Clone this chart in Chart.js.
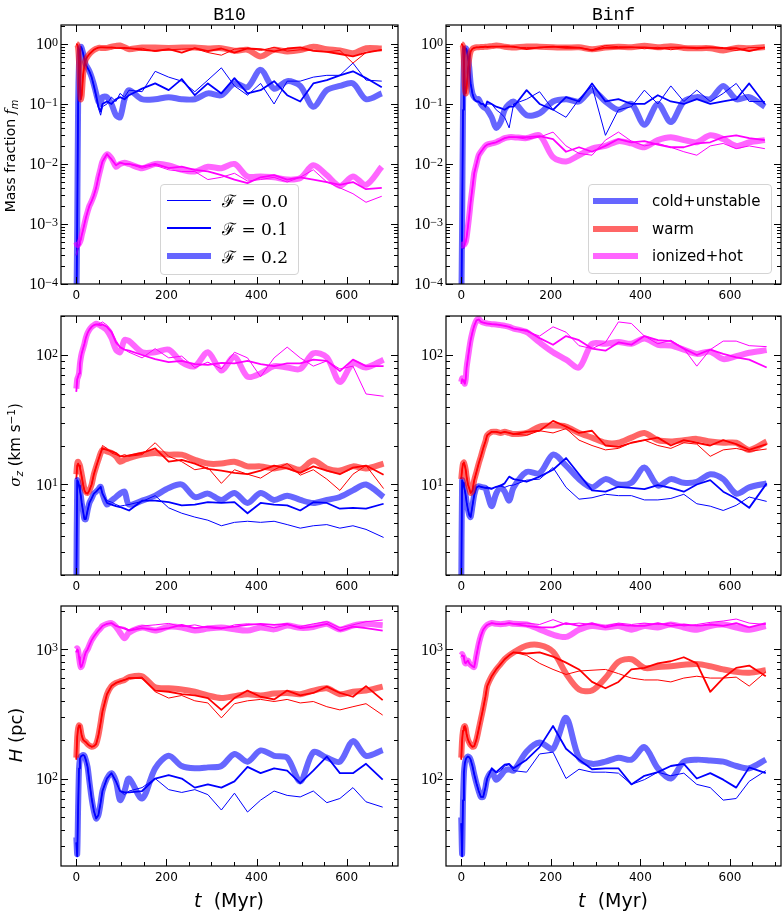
<!DOCTYPE html>
<html>
<head>
<meta charset="utf-8">
<title>Mass fraction, velocity dispersion and scale height of gas phases</title>
<script src="https://cdn.jsdelivr.net/npm/chart.js@4.4.1/dist/chart.umd.min.js"></script>
<style>
  html, body { margin:0; padding:0; background:#ffffff; }
  #fig { position:relative; width:784px; height:912px; overflow:hidden; background:#fff; font-family:"DejaVu Sans", sans-serif; color:#000; }
  .pane { position:absolute; z-index:1; }
  .pane canvas { display:block; }
  .txt { position:absolute; white-space:nowrap; line-height:1; z-index:3; }
  .title { font-family:"Liberation Mono","DejaVu Sans Mono",monospace; font-size:18px; text-align:center; }
  .ylab { transform:translate(-50%,-50%) rotate(-90deg); }
  .xlab { transform:translate(-50%,-50%); font-size:19px; }
  .sb { font-size:0.7em; position:relative; top:0.3em; font-style:italic; }
  .sp { font-size:0.7em; position:relative; top:-0.45em; }
  .legend { position:absolute; z-index:4; box-sizing:border-box; border:1px solid #d4d4d4; border-radius:4px; background:rgba(255,255,255,0.8); }
  .lsample { position:absolute; z-index:5; }
  .ltext { position:absolute; z-index:5; white-space:nowrap; line-height:1; transform:translateY(-50%); }
</style>
</head>
<body>
<div id="fig">
  <div class="txt title" style="left:61px;width:337px;top:6px;">B10</div>
  <div class="txt title" style="left:446px;width:335px;top:6px;">Binf</div>
  <div class="txt ylab" style="left:10px;top:156px;font-size:14px;">Mass fraction <i style="font-family:'DejaVu Serif',serif;">f</i><span class="sb">m</span></div>
  <div class="txt ylab" style="left:15px;top:445px;font-size:15px;"><i style="font-family:'DejaVu Serif',serif;">σ</i><span class="sb">z</span> (km s<span class="sp">−1</span>)</div>
  <div class="txt ylab" style="left:16px;top:735px;font-size:18px;"><i>H</i> (pc)</div>
  <div class="txt xlab" style="left:229px;top:900px;"><i>t</i>&nbsp;&nbsp;(Myr)</div>
  <div class="txt xlab" style="left:613px;top:900px;"><i>t</i>&nbsp;&nbsp;(Myr)</div>
</div>
<script>
// ---------------- DATA ----------------
// time samples (Myr)
const T_FM = [0,2,4,6,8,10,12,15,18,21,25,29,34,39,44,49,54,58,68,78,88,97,107,117,146,175,205,234,263,292,322,351,380,409,439,468,497,526,556,585,614,643,678];
const T_SZ = [0,2,4,6,8,10,12,15,18,21,25,29,34,39,44,49,54,58,68,78,88,97,107,117,146,175,205,234,263,292,322,351,380,409,439,468,497,526,556,585,614,643,682];
const T_H  = [0,2,4,6,8,10,12,15,18,21,25,29,34,39,44,49,54,58,68,78,88,97,107,117,146,175,205,234,263,292,322,351,380,409,439,468,497,526,556,585,614,643,680];

const F_LABELS = ['0.0','0.1','0.2'];
const PHASE_LABELS = ['cold+unstable','warm','ionized+hot'];
const X_TICKS = [0,200,400,600];
const FM_DECADES = [-4,-3,-2,-1,0];
const SZ_DECADES = [1,2];
const H_DECADES = [2,3];

// ---- Mass fraction, B10 ----
const FM_B10_COLD_F00 = [2e-5,1e-3,0.1,0.5,0.8,0.9,0.85,0.7,0.55,0.45,0.4,0.35,0.28,0.2,0.13,0.085,0.065, 0.09,0.1,0.13,0.11,0.15,0.13,0.17, 0.16,0.35,0.28,0.24,0.16,0.25,0.4,0.2,0.14,0.22,0.1,0.24,0.24,0.28,0.3,0.3,0.48,0.25,0.24];
const FM_B10_COLD_F01 = [2e-5,1e-3,0.1,0.5,0.8,0.9,0.85,0.7,0.55,0.45,0.4,0.35,0.28,0.2,0.14,0.09,0.075, 0.1,0.11,0.1,0.12,0.13,0.12,0.14, 0.18,0.22,0.17,0.26,0.14,0.22,0.15,0.27,0.15,0.17,0.24,0.14,0.11,0.22,0.25,0.3,0.35,0.27,0.19];
const FM_B10_COLD_F02 = [3e-5,1e-3,0.1,0.5,0.8,0.9,0.85,0.7,0.55,0.45,0.4,0.35,0.28,0.21,0.15,0.11,0.1, 0.13,0.13,0.1,0.065,0.06,0.12,0.17, 0.12,0.12,0.13,0.12,0.12,0.15,0.14,0.22,0.19,0.37,0.18,0.24,0.2,0.09,0.17,0.2,0.22,0.12,0.15];
const FM_B10_WARM_F00 = [1.0,0.98,0.85,0.5,0.2,0.12,0.14,0.3,0.45,0.55,0.62,0.68,0.74,0.8,0.84,0.87,0.88, 0.88,0.88,0.87,0.85,0.86,0.85,0.84, 0.85,0.75,0.8,0.82,0.84,0.72,0.65,0.82,0.85,0.78,0.88,0.76,0.8,0.78,0.74,0.78,0.48,0.72,0.8];
const FM_B10_WARM_F01 = [1.0,0.98,0.85,0.5,0.2,0.12,0.14,0.3,0.45,0.55,0.62,0.68,0.74,0.8,0.84,0.87,0.88, 0.88,0.87,0.88,0.86,0.85,0.86,0.85, 0.8,0.77,0.82,0.72,0.85,0.76,0.84,0.72,0.84,0.82,0.75,0.84,0.88,0.77,0.74,0.68,0.62,0.72,0.8];
const FM_B10_WARM_F02 = [1.0,0.98,0.85,0.5,0.2,0.12,0.14,0.3,0.45,0.55,0.62,0.68,0.74,0.79,0.83,0.86,0.86, 0.86,0.86,0.9,0.93,0.94,0.88,0.82, 0.87,0.87,0.86,0.87,0.87,0.84,0.85,0.77,0.8,0.62,0.8,0.75,0.79,0.9,0.82,0.78,0.7,0.85,0.84];
const FM_B10_HOT_F00 = [3e-4,3.5e-4,4e-4,4.5e-4,5e-4,5.5e-4,6.5e-4,8e-4,1e-3,1.25e-3,1.6e-3,2e-3,2.4e-3,3e-3,4e-3,6e-3,8.5e-3, 1.1e-2,1.5e-2,1.2e-2,9.5e-3,1.05e-2,1.0e-2,1.0e-2, 8.5e-3,9.5e-3,8e-3,7.5e-3,7.5e-3,5.5e-3,6e-3,7e-3,5.2e-3,5.5e-3,6e-3,5e-3,6e-3,8e-3,5e-3,4e-3,3.2e-3,2.3e-3,2.9e-3];
const FM_B10_HOT_F01 = [3e-4,3.5e-4,4e-4,4.5e-4,5e-4,5.5e-4,6.5e-4,8e-4,1e-3,1.25e-3,1.6e-3,2e-3,2.4e-3,3e-3,4e-3,6e-3,8.5e-3, 1.1e-2,1.45e-2,1.2e-2,9.5e-3,1.05e-2,1.0e-2,1.0e-2, 9e-3,1.0e-2,8.5e-3,9e-3,8e-3,7.5e-3,6.5e-3,5.5e-3,4.8e-3,6e-3,6.5e-3,5.5e-3,6e-3,5.5e-3,5e-3,4.5e-3,5e-3,3.8e-3,4e-3];
const FM_B10_HOT_F02 = [5e-4,4.5e-4,4.5e-4,4.7e-4,5e-4,5.5e-4,6.5e-4,8e-4,1e-3,1.25e-3,1.6e-3,2e-3,2.4e-3,3e-3,4e-3,6e-3,8.5e-3, 1.1e-2,1.45e-2,1.25e-2,9e-3,1.0e-2,1.05e-2,1.0e-2, 8.5e-3,1.0e-2,9.5e-3,8e-3,7.5e-3,9e-3,8.5e-3,1.0e-2,6.2e-3,6.2e-3,6e-3,5.5e-3,5.8e-3,9.5e-3,6.5e-3,4.3e-3,6.2e-3,4.5e-3,9e-3];

// ---- Mass fraction, Binf ----
const FM_BINF_COLD_F00 = [2e-5,1e-3,0.08,0.5,0.8,0.85,0.8,0.6,0.4,0.22,0.15,0.12,0.11,0.11,0.1,0.1,0.09, 0.1,0.1,0.08,0.07,0.06,0.04,0.1, 0.12,0.16,0.08,0.06,0.12,0.2,0.03,0.08,0.09,0.17,0.1,0.2,0.11,0.17,0.11,0.15,0.22,0.11,0.11];
const FM_BINF_COLD_F01 = [2e-5,1e-3,0.08,0.5,0.8,0.85,0.8,0.6,0.4,0.22,0.15,0.12,0.11,0.11,0.1,0.1,0.09, 0.11,0.1,0.09,0.085,0.08,0.09,0.09, 0.17,0.1,0.08,0.13,0.11,0.22,0.11,0.12,0.1,0.1,0.14,0.11,0.1,0.12,0.1,0.11,0.12,0.22,0.1];
const FM_BINF_COLD_F02 = [3e-5,1e-3,0.08,0.5,0.8,0.85,0.8,0.6,0.4,0.22,0.15,0.13,0.12,0.12,0.1,0.09,0.085, 0.08,0.06,0.04,0.05,0.08,0.1,0.11, 0.065,0.07,0.11,0.12,0.11,0.17,0.11,0.08,0.1,0.045,0.1,0.05,0.11,0.13,0.12,0.2,0.12,0.13,0.09];
const FM_BINF_WARM_F00 = [1.0,0.98,0.9,0.5,0.2,0.15,0.18,0.38,0.58,0.75,0.83,0.86,0.88,0.88,0.89,0.89,0.9, 0.9,0.9,0.9,0.91,0.91,0.92,0.88, 0.87,0.86,0.9,0.91,0.87,0.8,0.94,0.9,0.89,0.83,0.88,0.8,0.87,0.83,0.87,0.84,0.78,0.87,0.87];
const FM_BINF_WARM_F01 = [1.0,0.98,0.9,0.5,0.2,0.15,0.18,0.38,0.58,0.75,0.83,0.86,0.88,0.88,0.89,0.89,0.9, 0.89,0.9,0.9,0.9,0.91,0.9,0.9, 0.82,0.88,0.9,0.86,0.87,0.78,0.87,0.86,0.88,0.88,0.84,0.87,0.88,0.86,0.88,0.86,0.85,0.76,0.88];
const FM_BINF_WARM_F02 = [1.0,0.98,0.9,0.5,0.2,0.15,0.18,0.38,0.58,0.75,0.83,0.86,0.88,0.88,0.89,0.89,0.9, 0.9,0.92,0.94,0.93,0.9,0.88,0.87, 0.91,0.9,0.88,0.87,0.88,0.82,0.87,0.9,0.88,0.93,0.88,0.92,0.86,0.85,0.85,0.78,0.86,0.85,0.89];
const FM_BINF_HOT_F00 = [4e-4,4e-4,4e-4,4.2e-4,4.5e-4,5e-4,6e-4,9e-4,1.4e-3,2.3e-3,4e-3,7e-3,1.0e-2,1.4e-2,1.6e-2,1.8e-2,2.0e-2, 2.1e-2,2.2e-2,2.3e-2,2.5e-2,2.7e-2,2.8e-2,2.8e-2, 2.6e-2,2.8e-2,3.4e-2,2.0e-2,1.5e-2,1.4e-2,2.5e-2,3.4e-2,2.4e-2,2.0e-2,2.2e-2,1.9e-2,1.6e-2,1.4e-2,2.0e-2,2.2e-2,1.8e-2,2.0e-2,1.8e-2];
const FM_BINF_HOT_F01 = [4e-4,4e-4,4e-4,4.2e-4,4.5e-4,5e-4,6e-4,9e-4,1.4e-3,2.3e-3,4e-3,7e-3,1.0e-2,1.4e-2,1.6e-2,1.8e-2,2.0e-2, 2.1e-2,2.2e-2,2.3e-2,2.5e-2,2.7e-2,2.8e-2,2.8e-2, 2.8e-2,2.9e-2,2.6e-2,1.6e-2,1.9e-2,1.6e-2,2.0e-2,2.6e-2,2.3e-2,2.4e-2,2.1e-2,1.9e-2,1.9e-2,2.2e-2,2.3e-2,2.8e-2,3.0e-2,2.7e-2,2.5e-2];
const FM_BINF_HOT_F02 = [4.5e-4,4.5e-4,4.5e-4,4.5e-4,4.7e-4,5e-4,6e-4,9e-4,1.4e-3,2.3e-3,4e-3,7e-3,1.0e-2,1.4e-2,1.6e-2,1.8e-2,2.0e-2, 2.1e-2,2.2e-2,2.3e-2,2.5e-2,2.7e-2,2.8e-2,2.8e-2, 2.7e-2,3.0e-2,1.3e-2,1.1e-2,1.4e-2,1.8e-2,2.0e-2,2.4e-2,2.2e-2,1.9e-2,2.5e-2,2.8e-2,2.5e-2,2.3e-2,3.0e-2,2.6e-2,2.0e-2,2.3e-2,2.5e-2];

// ---- sigma_z (km/s), B10 ----
const SZ_B10_COLD_F00 = [1.5,10.8,10.5,9.8,9,8.2,7.2,6.2,5.4,5.4,6.3,7.2,7.8,8.5,8.8,9.2,9.6, 8.5,7.5,7.3,7.0,6.8,6.9,7.0, 7.4,8.2,6.6,6.0,5.6,5.3,4.8,5.1,5.2,5.1,5.2,4.9,4.6,4.8,4.9,4.6,4.8,4.5,3.9];
const SZ_B10_COLD_F01 = [1.5,10.8,10.5,9.8,9,8.2,7.2,6.2,5.4,5.4,6.3,7.2,7.8,8.5,8.8,9.2,9.6, 8.5,7.2,7.0,6.8,6.7,6.5,6.3, 7.5,7.5,7.3,6.9,7.0,7.3,7.2,7.3,6.0,7.2,7.0,6.9,6.3,7.3,7.2,6.5,6.6,6.5,7.1];
const SZ_B10_COLD_F02 = [1.5,10.8,10.5,9.8,9,8.2,7.2,6.2,5.4,5.4,6.3,7.2,7.8,8.5,8.8,9.2,9.6, 8.5,7.0,7.5,8.0,8.5,8.8,7.0, 7.5,8.2,9.4,10.0,8.0,8.5,7.6,8.6,7.2,8.6,7.6,8.2,7.6,7.2,7.6,8.0,9.0,10.0,8.0];
const SZ_B10_WARM_F00 = [11,14,14.5,14,13.5,12.5,11.5,10,9,8.6,8.5,9,10,12,13.7,15.5,17.5, 20,19,17.5,17,16.5,17,16.5, 17,21,16.5,15,13,13.5,10.2,13,12,11.2,13,14.5,11.8,13,11,9,12,14,9.3];
const SZ_B10_WARM_F01 = [11,14,14.5,14,13.5,12.5,11.5,10,9,8.6,8.5,9,10,12,13.7,15.5,17.5, 19,18.5,18,17.5,16.5,16.5,16.8, 17.5,19,15,15.5,14.5,13.2,12.8,12.3,12,12.8,14,13.3,12.3,13.8,12.8,12,13.5,14,11.9];
const SZ_B10_WARM_F02 = [12,14.5,15,14.5,14,13,12,10.5,9.3,8.8,8.6,9,10,12,13.7,15.5,17.5, 18.5,18,17.5,16.5,15,15.5,16, 17,17.5,17,17,15.5,14.5,14.5,15,13.8,13.8,13.3,13.8,13,15.3,13.3,12.8,13.8,13.3,14.5];
const SZ_B10_HOT_F00 = [52,65,68,72,85,95,103,112,122,135,148,157,165,170,172,174,176, 180,170,155,130,115,110,105, 95,112,95,98,80,88,78,105,95,68,95,115,95,82,90,78,82,50,48];
const SZ_B10_HOT_F01 = [52,65,68,72,85,95,103,112,122,135,148,157,165,170,172,171,170, 172,165,150,125,115,110,108, 100,93,88,90,85,84,87,86,90,85,82,86,86,92,90,75,92,82,82];
const SZ_B10_HOT_F02 = [55,65,68,72,85,95,103,112,122,135,148,157,165,170,174,172,168, 165,155,135,110,105,130,128, 105,105,110,88,82,105,76,97,68,72,82,80,78,103,96,62,86,80,92];

// ---- sigma_z (km/s), Binf ----
const SZ_BINF_COLD_F00 = [1.5,10.8,10.3,9.7,9,8.2,7.3,6.4,5.8,5.6,6.8,8.3,9.5,9.7,9.6,9.5,9.4, 9.3,9.2,9.6,9.7,9.5,9.8,9.9, 10.8,11,13.5,9.5,7.7,7.9,8.4,8.2,8.2,7.6,7.6,7.8,8.4,7.1,6.8,6.3,6.9,8.0,7.4];
const SZ_BINF_COLD_F01 = [1.5,10.8,10.3,9.7,9,8.2,7.3,6.4,5.8,5.6,6.8,8.3,9.5,9.7,9.6,9.5,9.4, 9.5,9.3,9.6,9.8,10.2,11.5,11.0, 10.5,11.5,13,16,12,9,8.8,9.6,9.4,9.2,9.9,9.4,8.8,10,10.8,8.8,7.8,6.6,10.2];
const SZ_BINF_COLD_F02 = [1.5,10.8,10.3,9.7,9,8.2,7.3,6.4,5.8,5.6,6.8,8.3,9.5,9.7,9.6,9.5,9.4, 8.5,6.8,8.5,9.5,8.8,7.5,9.5, 12.5,12.2,17,14,11,9.5,11,10,10.3,13.5,9.8,11,10.3,10.5,12,11,8.5,9.5,10.2];
const SZ_BINF_WARM_F00 = [11,13,14.5,14.8,14,13,11.5,10,9.3,8.6,9,10.8,12.5,14.5,16.5,19,21.5, 24,25.5,25.5,25,25.5,25,24.5, 24,26,25,27,22,20,18.5,19,21,22,20,19,21,20.5,16.5,18.5,19,18,18.8];
const SZ_BINF_WARM_F01 = [11,13,14.5,14.8,14,13,11.5,10,9.3,8.6,9,10.8,12.5,14.5,16.5,19,21.5, 24,25.5,25.5,25,25.5,25,24.5, 25.5,26,31,28,25,26,20,19.5,21,22,23,20,22,21,20,22,20.5,18.5,20.5];
const SZ_BINF_WARM_F02 = [11,13,14.5,14.8,14,13,11.5,10,9.3,8.6,9,10.8,12.5,14.5,16.5,19,21.5, 24,25.5,25.5,25,25.5,25,24.5, 25,28,28.5,28,25,23,21,21,23,25,22,21.5,22,22.5,21.5,21,21,18.5,21.5];
const SZ_BINF_HOT_F00 = [60,65,64,62,60,65,80,95,112,130,150,168,185,188,180,178,176, 175,173,172,170,168,165,160, 152,140,165,150,118,112,125,180,175,140,122,130,112,82,110,128,128,118,116];
const SZ_BINF_HOT_F01 = [60,65,64,62,60,65,80,95,112,130,150,168,185,188,180,178,176, 175,173,172,170,168,165,160, 155,135,120,140,130,112,108,125,120,140,130,128,112,100,110,102,96,92,80];
const SZ_BINF_HOT_F02 = [62,66,64,62,60,65,80,95,112,130,150,168,185,190,182,178,176, 175,173,172,170,168,165,160, 150,125,105,92,80,122,122,126,122,134,120,118,110,102,106,93,98,104,109];

// ---- scale height H (pc), B10 ----
const H_B10_COLD_F00 = [32,25,60,120,142,148,150,152,150,140,123,95,70,56,49,52,65, 80,100,110,95,80,75,80, 85,100,82,78,82,75,57,77,55,68,80,74,72,80,65,70,85,66,60];
const H_B10_COLD_F01 = [32,25,60,120,142,148,150,152,150,140,123,95,70,56,49,52,65, 80,100,110,95,80,78,78, 80,100,106,100,85,90,85,95,123,110,120,115,92,115,148,110,110,130,98];
const H_B10_COLD_F02 = [35,26,60,120,142,148,150,152,150,140,123,95,70,56,49,52,65, 80,100,110,95,68,80,100, 70,120,150,125,120,122,125,155,135,165,150,145,95,160,145,135,195,150,166];
const H_B10_WARM_F00 = [140,210,245,258,255,235,215,200,195,192,185,180,176,178,185,215,270, 330,450,520,550,565,580,600, 610,470,420,440,400,385,295,380,400,410,395,410,385,395,360,340,360,380,310];
const H_B10_WARM_F01 = [140,210,245,258,255,235,215,200,195,192,185,180,176,178,185,215,270, 330,450,520,550,565,580,600, 600,480,470,450,440,420,340,420,480,430,410,480,440,460,515,460,430,520,405];
const H_B10_WARM_F02 = [145,210,245,258,255,235,215,200,195,192,185,180,176,178,185,215,270, 330,450,520,550,565,580,610, 620,510,500,490,470,440,420,435,450,440,455,460,450,480,500,450,470,480,515];
const H_B10_HOT_F00 = [950,1000,980,870,780,730,740,800,880,950,1000,1080,1180,1260,1330,1400,1460, 1520,1580,1600,1520,1500,1480,1420, 1520,1550,1590,1500,1550,1470,1440,1550,1580,1550,1470,1550,1500,1580,1640,1470,1550,1640,1690];
const H_B10_HOT_F01 = [950,1000,980,870,780,730,740,800,880,950,1000,1080,1180,1260,1330,1400,1460, 1520,1580,1600,1520,1480,1450,1400, 1460,1420,1460,1550,1460,1500,1460,1500,1550,1580,1550,1580,1460,1500,1580,1400,1500,1460,1400];
const H_B10_HOT_F02 = [1000,1020,980,870,780,730,740,800,880,950,1000,1080,1180,1260,1330,1400,1460, 1520,1580,1600,1500,1350,1220,1350, 1480,1400,1500,1480,1400,1450,1480,1430,1400,1480,1430,1530,1470,1490,1580,1430,1530,1580,1540];

// ---- scale height H (pc), Binf ----
const H_BINF_COLD_F00 = [45,25,68,110,131,140,145,148,146,140,125,108,92,80,72,72,85, 100,118,110,115,125,128,115, 112,155,160,100,118,112,112,110,90,98,112,105,110,90,85,68,70,95,115];
const H_BINF_COLD_F01 = [45,25,68,110,131,140,145,148,146,140,125,108,92,80,72,72,85, 100,120,112,120,128,130,120, 140,175,255,170,140,118,120,120,90,105,112,125,130,100,110,98,85,122,110];
const H_BINF_COLD_F02 = [50,26,68,110,131,140,145,148,146,140,125,108,92,80,72,72,85, 100,112,98,105,115,118,115, 162,190,170,295,145,130,135,145,140,175,120,100,135,140,138,135,125,120,140];
const H_BINF_WARM_F00 = [140,200,235,250,255,245,220,200,190,182,176,178,200,240,290,350,430, 520,620,700,770,840,900,950, 900,780,700,640,680,690,700,650,600,580,580,560,600,620,600,600,610,520,670];
const H_BINF_WARM_F01 = [140,200,235,250,255,245,220,200,190,182,176,178,200,240,290,350,430, 520,620,700,770,840,900,950, 930,950,880,790,700,560,500,560,700,720,780,810,870,780,470,600,720,750,620];
const H_BINF_WARM_F02 = [145,200,235,250,255,245,220,200,190,182,176,178,200,240,290,350,430, 520,620,700,770,840,900,950, 1070,1080,960,650,490,480,600,800,840,720,730,740,760,770,740,700,670,660,690];
const H_BINF_HOT_F00 = [880,900,890,860,790,780,800,820,780,760,740,730,900,1100,1280,1420,1500, 1550,1600,1580,1570,1580,1600,1580, 1600,1560,1700,1560,1600,1560,1520,1600,1560,1600,1560,1600,1520,1560,1620,1660,1720,1600,1560];
const H_BINF_HOT_F01 = [880,900,890,860,790,780,800,820,780,760,740,730,900,1100,1280,1420,1500, 1550,1600,1580,1570,1580,1600,1580, 1520,1480,1480,1600,1520,1600,1480,1560,1520,1520,1600,1520,1560,1520,1560,1520,1600,1480,1600];
const H_BINF_HOT_F02 = [900,920,890,860,790,780,800,820,780,760,740,730,900,1100,1280,1420,1500, 1550,1600,1580,1570,1580,1600,1580, 1560,1430,1300,1250,1420,1520,1480,1520,1420,1520,1480,1560,1480,1420,1520,1560,1480,1420,1520];

// ---------------- LAYOUT / STYLE ----------------
const PHASE_RGB = [[0,0,255],[255,0,0],[255,0,255]];
const F_WIDTH = [1, 1.8, 6];
const F_ALPHA = [1, 1, 0.6];
const F_TENSION = [0, 0, 0.3];
const COLS = [[61,398],[446,781]];
const ROWS = [[25,284],[316,575],[606,866]];
const X_MIN = -34, X_MAX = 714;
const ROW_Y = [
  {min:1e-4, max:2.07, decades:FM_DECADES},
  {min:2, max:200, decades:SZ_DECADES},
  {min:21, max:2170, decades:H_DECADES}
];
const PAD_L = 52, PAD_R = 4, PAD_T = 20, PAD_B = 24;

const PANELS = [
  {row:0, col:0, T:T_FM, s:[[FM_B10_COLD_F00,FM_B10_WARM_F00,FM_B10_HOT_F00],[FM_B10_COLD_F01,FM_B10_WARM_F01,FM_B10_HOT_F01],[FM_B10_COLD_F02,FM_B10_WARM_F02,FM_B10_HOT_F02]]},
  {row:0, col:1, T:T_FM, s:[[FM_BINF_COLD_F00,FM_BINF_WARM_F00,FM_BINF_HOT_F00],[FM_BINF_COLD_F01,FM_BINF_WARM_F01,FM_BINF_HOT_F01],[FM_BINF_COLD_F02,FM_BINF_WARM_F02,FM_BINF_HOT_F02]]},
  {row:1, col:0, T:T_SZ, s:[[SZ_B10_COLD_F00,SZ_B10_WARM_F00,SZ_B10_HOT_F00],[SZ_B10_COLD_F01,SZ_B10_WARM_F01,SZ_B10_HOT_F01],[SZ_B10_COLD_F02,SZ_B10_WARM_F02,SZ_B10_HOT_F02]]},
  {row:1, col:1, T:T_SZ, s:[[SZ_BINF_COLD_F00,SZ_BINF_WARM_F00,SZ_BINF_HOT_F00],[SZ_BINF_COLD_F01,SZ_BINF_WARM_F01,SZ_BINF_HOT_F01],[SZ_BINF_COLD_F02,SZ_BINF_WARM_F02,SZ_BINF_HOT_F02]]},
  {row:2, col:0, T:T_H, s:[[H_B10_COLD_F00,H_B10_WARM_F00,H_B10_HOT_F00],[H_B10_COLD_F01,H_B10_WARM_F01,H_B10_HOT_F01],[H_B10_COLD_F02,H_B10_WARM_F02,H_B10_HOT_F02]]},
  {row:2, col:1, T:T_H, s:[[H_BINF_COLD_F00,H_BINF_WARM_F00,H_BINF_HOT_F00],[H_BINF_COLD_F01,H_BINF_WARM_F01,H_BINF_HOT_F01],[H_BINF_COLD_F02,H_BINF_WARM_F02,H_BINF_HOT_F02]]}
];

function rgba(rgb,a){ return 'rgba('+rgb[0]+','+rgb[1]+','+rgb[2]+','+a+')'; }

// frame, inward major/minor ticks on all four sides, and 10^n labels with raised exponents
const framePlugin = {
  id:'frameTicks',
  afterDraw(chart){
    const {ctx, chartArea:a, scales:{x,y}} = chart;
    ctx.save();
    ctx.strokeStyle = '#000';
    ctx.lineWidth = 1;
    ctx.beginPath();
    for (let v = 0; v <= 700; v += 50) {
      const px = Math.round(x.getPixelForValue(v)) + 0.5;
      const len = (v % 200 === 0) ? 7 : 4;
      ctx.moveTo(px, a.bottom); ctx.lineTo(px, a.bottom - len);
      ctx.moveTo(px, a.top); ctx.lineTo(px, a.top + len);
    }
    const d0 = Math.floor(Math.log10(y.min)), d1 = Math.ceil(Math.log10(y.max));
    for (let d = d0; d <= d1; d++) {
      for (let m = 1; m <= 9; m++) {
        const v = m * Math.pow(10, d);
        if (v < y.min * 0.999 || v > y.max * 1.001) continue;
        const py = Math.round(y.getPixelForValue(v)) + 0.5;
        const len = (m === 1) ? 7 : 4;
        ctx.moveTo(a.left, py); ctx.lineTo(a.left + len, py);
        ctx.moveTo(a.right, py); ctx.lineTo(a.right - len, py);
      }
    }
    ctx.stroke();
    ctx.lineWidth = 1.2;
    ctx.strokeRect(a.left, a.top, a.right - a.left, a.bottom - a.top);

    // y tick labels: "10" with superscript exponent
    ctx.fillStyle = '#000';
    ctx.textAlign = 'left';
    ctx.textBaseline = 'alphabetic';
    y.ticks.forEach(t => {
      const d = Math.round(Math.log10(t.value));
      const py = y.getPixelForValue(t.value);
      const expStr = d < 0 ? '\u2212' + Math.abs(d) : String(d);
      ctx.font = "12px 'Liberation Serif', serif";
      const we = ctx.measureText(expStr).width;
      ctx.font = "16px 'Liberation Serif', serif";
      const wb = ctx.measureText('10').width;
      const xr = a.left - 3;
      const base = py + 5.3;
      ctx.fillText('10', xr - we - wb, base);
      ctx.font = "12px 'Liberation Serif', serif";
      ctx.fillText(expStr, xr - we, base - 3.6);
    });
    ctx.restore();
  }
};

const fig = document.getElementById('fig');

PANELS.forEach(p => {
  const [x0,x1] = COLS[p.col];
  const [y0,y1] = ROWS[p.row];
  const yr = ROW_Y[p.row];
  const W = x1 - x0 + PAD_L + PAD_R;
  const H = y1 - y0 + PAD_T + PAD_B;
  const div = document.createElement('div');
  div.className = 'pane';
  div.style.left = (x0 - PAD_L) + 'px';
  div.style.top = (y0 - PAD_T) + 'px';
  div.style.width = W + 'px';
  div.style.height = H + 'px';
  const cv = document.createElement('canvas');
  cv.width = W; cv.height = H;
  cv.style.width = W + 'px'; cv.style.height = H + 'px';
  div.appendChild(cv);
  fig.appendChild(div);

  const ds = [];
  for (let f = 0; f < 3; f++) {
    for (let ph = 0; ph < 3; ph++) {
      const vals = p.s[f][ph];
      ds.push({
        label: PHASE_LABELS[ph] + ' F=' + F_LABELS[f],
        data: p.T.map((t,i) => ({x:t, y:vals[i]})),
        borderColor: rgba(PHASE_RGB[ph], F_ALPHA[f]),
        borderWidth: F_WIDTH[f],
        pointRadius: 0,
        fill: false,
        tension: F_TENSION[f],
        borderJoinStyle: 'round',
        clip: 0
      });
    }
  }
  ds.reverse(); // later-plotted series on top

  new Chart(cv, {
    type: 'line',
    data: { datasets: ds },
    options: {
      responsive: false,
      animation: false,
      events: [],
      layout: { padding: { left:0, right:PAD_R, top:PAD_T, bottom:0 } },
      plugins: { legend:{display:false}, tooltip:{enabled:false}, title:{display:false} },
      scales: {
        x: {
          type: 'linear', min: X_MIN, max: X_MAX,
          grid: { display:false, drawTicks:false },
          border: { display:false },
          afterBuildTicks: s => { s.ticks = X_TICKS.map(v => ({value:v})); },
          afterFit: s => { s.height = PAD_B; },
          ticks: { color:'#000', font:{family:'DejaVu Sans', size:12}, padding:5, maxRotation:0, autoSkip:false, callback: v => String(v) }
        },
        y: {
          type: 'logarithmic', min: yr.min, max: yr.max,
          grid: { display:false, drawTicks:false },
          border: { display:false },
          afterBuildTicks: s => { s.ticks = yr.decades.map(d => ({value:Math.pow(10,d)})); },
          afterFit: s => { s.width = PAD_L; },
          ticks: { display:false }
        }
      }
    },
    plugins: [framePlugin]
  });
});

// ---------------- LEGENDS ----------------
function makeLegend(box, entries) {
  const b = document.createElement('div');
  b.className = 'legend';
  b.style.left = box.x + 'px'; b.style.top = box.y + 'px';
  b.style.width = box.w + 'px'; b.style.height = box.h + 'px';
  fig.appendChild(b);
  entries.forEach(e => {
    const s = document.createElement('div');
    s.className = 'lsample';
    s.style.left = e.sx + 'px';
    s.style.width = e.sw + 'px';
    s.style.top = (e.y - e.lw/2) + 'px';
    s.style.height = e.lw + 'px';
    s.style.background = e.color;
    fig.appendChild(s);
    const t = document.createElement('div');
    t.className = 'ltext';
    t.style.left = e.tx + 'px';
    t.style.top = e.y + 'px';
    t.style.font = e.font;
    t.textContent = e.text;
    fig.appendChild(t);
  });
}
const LEG1_Y = [200, 228, 256];
makeLegend({x:160, y:184, w:139, h:91}, F_LABELS.map((f,i) => ({
  sx:167, sw:44, y:LEG1_Y[i], lw:F_WIDTH[i], color: rgba(PHASE_RGB[0], F_ALPHA[i]),
  tx:222, font:"17px 'DejaVu Serif', serif", text:'\u2131 = ' + f
})));
const LEG2_Y = [201, 229, 256];
makeLegend({x:588, y:184, w:184, h:90}, PHASE_LABELS.map((lab,i) => ({
  sx:593, sw:45, y:LEG2_Y[i], lw:6, color: rgba(PHASE_RGB[i], 0.6),
  tx:652, font:"15px 'DejaVu Sans', sans-serif", text:lab
})));
</script>
</body>
</html>
